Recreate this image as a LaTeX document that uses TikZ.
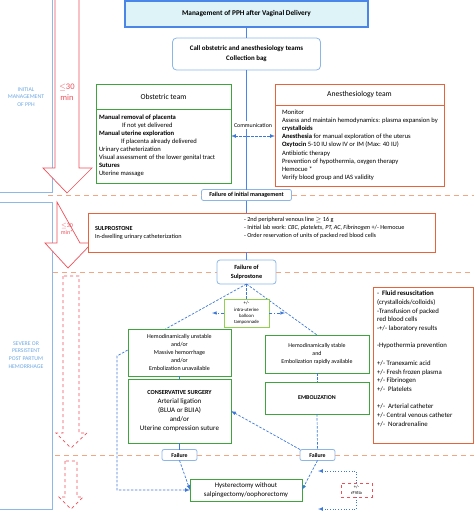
\documentclass[tikz,border=0pt]{standalone}
\usepackage{amsmath,amssymb}
\usepackage{xcolor}
\usepackage{fontspec}
\setmainfont{Carlito}
\usepackage{tikz}

\definecolor{pphblue}{RGB}{74,134,232}
\definecolor{pphcyan}{RGB}{221,243,248}
\definecolor{lightblue}{RGB}{140,182,232}
\definecolor{linkblue}{RGB}{60,120,216}
\definecolor{labelblue}{RGB}{111,168,228}
\definecolor{teamgreen}{RGB}{60,165,60}
\definecolor{limegreen}{RGB}{146,208,80}
\definecolor{anorange}{RGB}{232,98,60}
\definecolor{dashorange}{RGB}{244,165,130}
\definecolor{arrowred}{RGB}{238,80,90}

\newcommand{\pphsize}[2]{\fontsize{#1}{#2}\selectfont}

\begin{document}
\begin{tikzpicture}[x=1pt, y=-1pt, every node/.style={inner sep=0pt, outer sep=0pt},
  greenbox/.style={draw=teamgreen, line width=0.9pt, fill=white, align=center},
  orangebox/.style={draw=anorange, line width=0.9pt, fill=white},
  failbox/.style={draw=lightblue, line width=0.8pt, rounded corners=2pt, fill=white, align=center, font=\bfseries\pphsize{5.8}{8}},
  link/.style={linkblue, line width=0.7pt, dash pattern=on 2.5pt off 1.5pt},
  mainline/.style={pphblue, line width=0.8pt},
  phase/.style={dashorange, line width=0.7pt, dash pattern=on 5pt off 4pt},
  redarrow/.style={arrowred, line width=0.7pt, fill=white},
  sidelabel/.style={text=labelblue, align=center, font=\pphsize{5.8}{7.8}}]
\useasboundingbox (0,0) rectangle (474,512);

% phases on the left
\draw[labelblue!80, line width=0.7pt] (52,-2) -- (52,192) -- (-2,192);
\draw[labelblue!80, line width=0.7pt] (-2,202) -- (52,202) -- (52,509) -- (-2,509);
\draw[redarrow] (55,-2) -- (55,168) -- (43,168) -- (67,193) -- (92,168) -- (79,168) -- (79,-2);
\draw[redarrow] (57,202) -- (57,243) -- (45,243) -- (68,268) -- (92,243) -- (80,243) -- cycle;
\draw[redarrow, dashed] (63,276) -- (63,433) -- (56,433) -- (71,448) -- (87,433) -- (79,433) -- (79,276) -- cycle;
\draw[redarrow, dashed] (65,461) -- (65,497) -- (59,497) -- (71,509) -- (83,497) -- (77,497) -- (77,461) -- cycle;
\node[sidelabel] (initlbl) at (26,97) {INITIAL\\MANAGEMENT\\OF PPH};
\node[sidelabel] (severelbl) at (26,355) {SEVERE OR\\PERSISTENT\\POST PARTUM\\HEMORRHAGE};
\node[text=arrowred, align=center, font=\pphsize{8.5}{11}] (time1) at (67,92) {$\leq$30\\min};
\node[text=arrowred, align=center, font=\pphsize{6}{7.5}] (time2) at (67,229) {$\leq$30\\min*};

% initial management
\node[draw=pphblue, line width=1.6pt, fill=pphcyan, minimum width=243, minimum height=26, font=\bfseries\pphsize{7.3}{9}] (mgmt) at (246.5,14) {Management of PPH after Vaginal Delivery};
\node[draw=lightblue, line width=0.8pt, rounded corners=4pt, fill=white, minimum width=148, minimum height=32, align=center, font=\bfseries\pphsize{6.9}{10}] (call) at (246.5,54) {Call obstetric and anesthesiology teams\\Collection bag};
\node[failbox, minimum width=90, minimum height=11, font=\bfseries\pphsize{6.1}{7}] (fail1) at (246.5,195) {Failure of initial management};
\draw[mainline] (mgmt.south) -- (call.north);
\draw[mainline] (call.south) -- (fail1.north);

\node[greenbox, minimum width=135, minimum height=99] (obst) at (163.5,133.5) {};
\draw[teamgreen, line width=0.9pt] ([yshift=-25pt]obst.north west) -- ([yshift=-25pt]obst.north east);
\node[font=\pphsize{7.6}{9}] (obsthead) at (163.5,97) {Obstetric team};
\node[anchor=north west, align=left, font=\pphsize{6.6}{8}] (obsttext) at (99,115) {\textbf{Manual removal of placenta}\\
\hspace*{23pt}If not yet delivered\\
\textbf{Manual uterine exploration}\\
\hspace*{22pt}If placenta already delivered\\
Urinary catheterization\\
Visual assessment of the lower genital tract\\
\textbf{Sutures}\\
Uterine massage};

\node[orangebox, minimum width=169, minimum height=102] (anest) at (359.5,135) {};
\draw[anorange, line width=0.9pt] ([yshift=-21pt]anest.north west) -- ([yshift=-21pt]anest.north east);
\node[font=\pphsize{7.6}{9}] (anesthead) at (359.5,95) {Anesthesiology team};
\node[anchor=north west, align=left, font=\pphsize{6.6}{8.1}] (anesttext) at (282,110) {Monitor\\
Assess and maintain hemodynamics: plasma expansion by\\
\textbf{crystalloids}\\
\textbf{Anesthesia} for manual exploration of the uterus\\
\textbf{Oxytocin} 5-10 IU slow IV or IM (Max: 40 IU)\\
Antibiotic therapy\\
Prevention of hypothermia, oxygen therapy\\
Hemocue *\\
Verify blood group and IAS validity};

\node[fill=white, inner ysep=2pt, font=\pphsize{5.9}{7}] (comm) at (253,125) {Communication};
\draw[link, latex-latex] ([yshift=-2.5pt]obst.east) -- ([yshift=-2.5pt]obst.east -| anest.west);

\coordinate (p1l) at (48,195);
\coordinate (p1r) at (474,195);
\draw[phase] (p1l) -- (fail1.west);
\draw[phase] (fail1.east) -- (p1r);

% sulprostone
\node[orangebox, minimum width=347, minimum height=39] (sulpro) at (261.5,232.5) {};
\node[anchor=west, align=left, font=\pphsize{6.2}{8}] (sulproleft) at (95,233) {\textbf{SULPROSTONE}\\In-dwelling urinary catheterization};
\node[anchor=north west, align=left, font=\pphsize{6.2}{8}] (sulproright) at (244,217.5) {- 2nd peripheral venous line $\geq$ 16 g\\
- Initial lab work: \textit{CBC, platelets, PT, AC, Fibrinogen} +/- Hemocue\\
- Order reservation of units of packed red blood cells};
\node[failbox, minimum width=59, minimum height=24, rounded corners=3pt, font=\bfseries\pphsize{6.3}{9}] (fs) at (246.5,272) {Failure of\\Sulprostone};
\draw[mainline] (fail1.south) -- (fail1.south |- sulpro.north);
\draw[mainline] (fs.north |- sulpro.south) -- (fs.north);

\coordinate (p2l) at (53,272);
\coordinate (p2r) at (474,272);
\draw[phase] (p2l) -- (fs.west);
\draw[phase] (fs.east) -- (p2r);

% severe pph
\node[greenbox, minimum width=112, minimum height=22, font=\pphsize{6.9}{9}] (hyst) at (246,490) {Hysterectomy without\\salpingectomy/oophorectomy};
\node[greenbox, minimum width=104, minimum height=38, font=\pphsize{5.9}{8}] (stable) at (317,354) {Hemodinamically stable\\and\\Embolization rapidly available};
\coordinate (turn) at (117,356);
\draw[link, -latex] (fs.south) -- (turn) |- (hyst.west);
\draw[link] (fs.south) -- (stable.north);

\node[draw=limegreen, line width=0.9pt, fill=white, minimum width=45, minimum height=28, align=center, font=\pphsize{4.8}{6.3}] (balloon) at (246.5,313) {+/-\\intra-uterine\\balloon\\tamponnade};
\draw[link] (fs.south) -- (balloon.north);
\coordinate (bl) at (212,313);
\coordinate (br) at (285,313);
\draw[linkblue, line width=0.6pt, dash dot, -latex] (balloon.west) -- (bl);
\draw[linkblue, line width=0.6pt, dash dot, -latex] (balloon.east) -- (br);

\node[greenbox, minimum width=103, minimum height=47, font=\pphsize{6}{8}] (unstable) at (179.5,352.5) {Hemodinamically unstable\\and/or\\Massive hemorrhage\\and/or\\Embolization unavailable};
\node[greenbox, minimum width=103, minimum height=64, font=\pphsize{7}{9}] (cons) at (179.5,411) {{\bfseries\pphsize{6.2}{9}CONSERVATIVE SURGERY}\\Arterial ligation\\(BLUA or BLIIA)\\and/or\\Uterine compression suture};
\node[greenbox, minimum width=104, minimum height=32, font=\bfseries\pphsize{5.9}{8}] (embol) at (317,398) {EMBOLIZATION};

\node[failbox, minimum width=35, minimum height=11] (faila) at (179.5,455) {Failure};
\node[failbox, minimum width=35, minimum height=11] (failb) at (317.5,455) {Failure};
\coordinate (p3l) at (55,455);
\coordinate (p3r) at (474,455);
\draw[phase] (p3l) -- (faila.west);
\draw[phase] (faila.east) -- (failb.west);
\draw[phase] (failb.east) -- (p3r);

\draw[link] (unstable.south) -- (cons.north);
\draw[linkblue, line width=0.7pt] (cons.south) -- (faila.north);
\draw[link, -latex] (faila.south) -- (hyst.west);
\draw[link] (stable.south) -- (embol.north);
\draw[link] (embol.south) -- (failb.north);
\draw[link, -latex] (failb.north west) -- (cons.east);
\draw[link, -latex] (failb.south) -- (hyst.east);

\node[draw=arrowred, dashed, line width=0.7pt, minimum width=31, minimum height=14, align=center, font=\pphsize{4.6}{6}] (rf) at (356.5,490) {+/-\\rFVIIa};
\coordinate (rfup) at (318,471);
\coordinate (rfdown) at (318,509);
\draw[linkblue, line width=0.7pt, dotted, -latex] (rf.north) |- (rfup);
\draw[linkblue, line width=0.7pt, dotted, -latex] (rf.south) |- (rfdown);

% supportive care
\node[orangebox, minimum width=100, minimum height=156] (fluid) at (423,365) {};
\node[anchor=north west, align=left, font=\pphsize{6.8}{8.7}] (fluidtext) at (377,291) {-\ \ \textbf{Fluid resuscitation}\\
(crystalloids/colloids)\\
-Transfusion of packed\\
red blood cells\\
-+/- laboratory results\\[8.7pt]
-Hypothermia prevention\\[8.7pt]
+/- Tranexamic acid\\
+/- Fresh frozen plasma\\
+/- Fibrinogen\\
+/-\ \ Platelets\\[8.7pt]
+/-\ \ Arterial catheter\\
+/- Central venous catheter\\
+/-\ \ Noradrenaline};
\end{tikzpicture}
\end{document}
